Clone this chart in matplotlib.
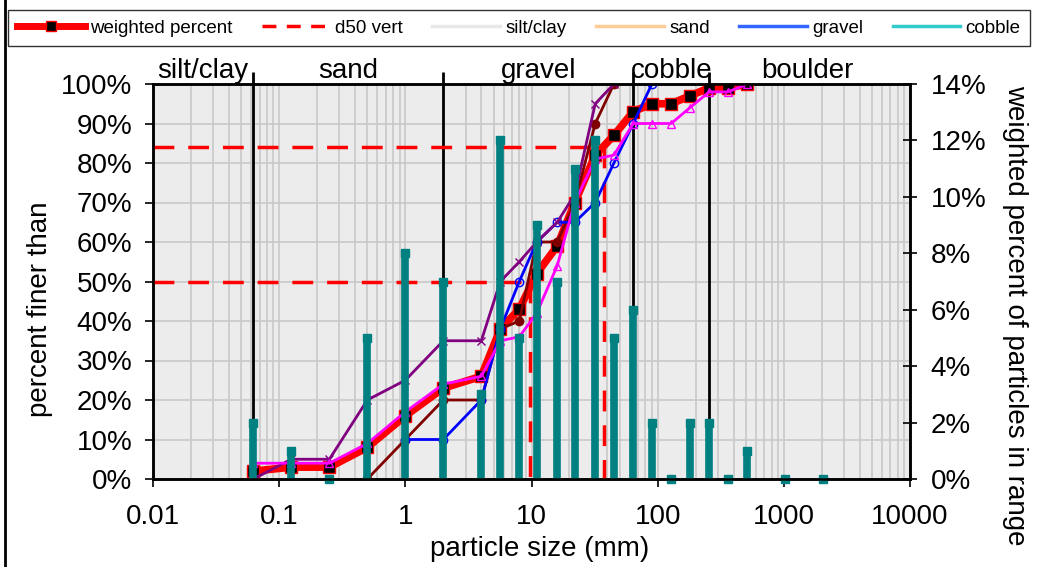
import matplotlib
matplotlib.use("Agg")
import matplotlib.pyplot as plt
from matplotlib.lines import Line2D
from matplotlib.ticker import FixedLocator, LogLocator, NullFormatter, FuncFormatter

plt.rcParams['font.family'] = ['Liberation Sans', 'DejaVu Sans']

# particle size classes (mm, upper bound of each class)
sizes = [0.0625, 0.125, 0.25, 0.5, 1, 2, 4, 5.66, 8, 11, 16, 22, 32, 45, 64,
         90, 128, 180, 256, 362, 512, 1024, 2048]
# weighted percent of particles in each class (right axis)
pct_in_range = [2, 1, 0, 5, 8, 7, 3, 12, 5, 9, 7, 11, 12, 5, 6,
                2, 0, 2, 2, 0, 1, 0, 0]

# cumulative curves (percent finer than)
weighted_sizes = sizes[:21]
weighted_pct = [2, 3, 3, 8, 16, 23, 26, 38, 43, 52, 59, 70, 82, 87, 93,
                95, 95, 97, 99, 99, 100]

magenta_sizes = sizes[:21]
magenta_pct = [4, 4, 4, 9, 17, 24, 26, 35, 36, 42, 54, 70, 81, 82, 90,
               90, 90, 94, 98, 98, 100]

blue_sizes = [1, 2, 4, 5.66, 8, 11, 16, 22, 32, 45, 64, 90]
blue_pct = [10, 10, 20, 38, 50, 60, 65, 65, 70, 80, 90, 100]

purple_sizes = [0.0625, 0.125, 0.25, 0.5, 1, 2, 4, 5.66, 8, 11, 16, 22, 32, 45]
purple_pct = [0, 5, 5, 20, 25, 35, 35, 50, 55, 60, 65, 72, 95, 100]

maroon_sizes = [0.5, 1, 2, 4, 5.66, 8, 11, 16, 22, 32, 45]
maroon_pct = [0, 10, 20, 20, 38, 40, 60, 60, 70, 90, 100]

d50 = 9.7
d84 = 37.5

# size class boundaries and names
bounds = [0.0625, 2, 64, 256]
class_names = ['silt/clay', 'sand', 'gravel', 'cobble', 'boulder']
class_pos = [0.025, 0.354, 11.3, 128, 1550]

FS = 20

fig = plt.figure(figsize=(10.55, 5.67), dpi=100)
ax = fig.add_axes([153/1055, 1-479/567, (910-153)/1055, (479-84)/567])
ax2 = ax.twinx()

ax.set_xscale('log')
ax.set_xlim(0.01, 10000)
ax.set_ylim(0, 100)
ax.set_facecolor('#ececec')

ax.xaxis.set_major_locator(LogLocator(base=10, numticks=10))
ax.xaxis.set_minor_locator(LogLocator(base=10, subs=range(2, 10), numticks=100))
ax.xaxis.set_minor_formatter(NullFormatter())
ax.xaxis.set_major_formatter(FuncFormatter(lambda v, p: '%g' % v))
ax.yaxis.set_major_locator(FixedLocator(range(0, 101, 10)))
ax.yaxis.set_major_formatter(FuncFormatter(lambda v, p: '%d%%' % v))
ax.grid(which='both', color='#c8c8c8', lw=1.2)
ax.set_axisbelow(True)
ax.tick_params(which='major', labelsize=FS, length=6, width=1.2, direction='out')
ax.tick_params(axis='y', pad=9)
ax.tick_params(axis='x', pad=12)
ax.tick_params(which='minor', length=0)
for s in ax.spines.values():
    s.set_linewidth(1.8)

# class boundaries
ax.vlines(bounds, 0, 103, colors='black', lw=2, clip_on=False, zorder=2)
for name, xp in zip(class_names, class_pos):
    ax.text(xp, 103.3, name, ha='center', va='center', fontsize=FS)

# d50 / d84 guide lines
dash = dict(color='red', lw=2.5, dashes=(6, 4), zorder=3)
ax.plot([0.01, d50], [50, 50], **dash)
ax.plot([d50, d50], [50, 0], **dash)
ax.plot([0.01, d84], [84, 84], **dash)
ax.plot([d84, d84], [84, 0], **dash)

ax.plot(weighted_sizes, weighted_pct, color='red', lw=5.5, marker='s', ms=8.5,
        mfc='black', mec='red', mew=1, zorder=4)
ax.plot(maroon_sizes, maroon_pct, color='#800000', lw=2, marker='o', ms=6, zorder=5)
ax.plot(blue_sizes, blue_pct, color='#0000ff', lw=2, marker='o', ms=6, mfc='none', zorder=5)
ax.plot(purple_sizes, purple_pct, color='#800080', lw=2, marker='x', ms=6, zorder=5)
ax.plot(magenta_sizes, magenta_pct, color='#ff00ff', lw=2, marker='^', ms=6,
        mfc='none', zorder=5)

ax.set_xlabel('particle size (mm)', fontsize=FS, va='center')
ax.xaxis.set_label_coords(0.511, -0.177)
ax.set_ylabel('percent finer than', fontsize=FS, va='center')
ax.yaxis.set_label_coords(-0.149, 0.43)

# weighted percent per class (right axis)
ax2.set_ylim(0, 14)
ax2.vlines(sizes, 0, pct_in_range, colors='#008080', lw=5.5)
ax2.plot(sizes, pct_in_range, ls='none', marker='s', ms=6.2, color='#008080',
         clip_on=False)
ax2.yaxis.set_major_locator(FixedLocator(range(0, 15, 2)))
ax2.yaxis.set_major_formatter(FuncFormatter(lambda v, p: '%d%%' % v))
ax2.tick_params(labelsize=FS, length=10, width=1.2, direction='inout', pad=10)
ax2.set_ylabel('weighted percent of particles in range', fontsize=FS,
               rotation=270, va='center')
ax2.yaxis.set_label_coords(1.139, 0.415)
for s in ax2.spines.values():
    s.set_linewidth(1.8)

# legend across the top
handles = [
    Line2D([], [], color='red', lw=5, marker='s', ms=7.5, mfc='black', mec='red'),
    Line2D([], [], color='red', lw=2.5, dashes=(4, 3)),
    Line2D([], [], color='#e8e8e8', lw=2.5),
    Line2D([], [], color='#ffcc99', lw=2.5),
    Line2D([], [], color='#3366ff', lw=2.5),
    Line2D([], [], color='#33cccc', lw=2.5),
]
labels = ['weighted percent', 'd50 vert', 'silt/clay', 'sand', 'gravel', 'cobble']
leg = fig.legend(handles, labels, loc='lower left', ncol=6, mode='expand',
                 bbox_to_anchor=(8/1055, 1-46/567, 1022/1055, 41/567),
                 fontsize=13.5, frameon=True, fancybox=False, borderaxespad=0,
                 borderpad=0.5, handlelength=3.6, handletextpad=0.3,
                 columnspacing=0.6)
leg.get_frame().set_edgecolor('black')
leg.get_frame().set_linewidth(1)

# outer border on the left
fig.add_artist(Line2D([5/1055, 5/1055], [0, 1], color='black', lw=2,
                      transform=fig.transFigure))

fig.savefig('out.png', dpi=100)
